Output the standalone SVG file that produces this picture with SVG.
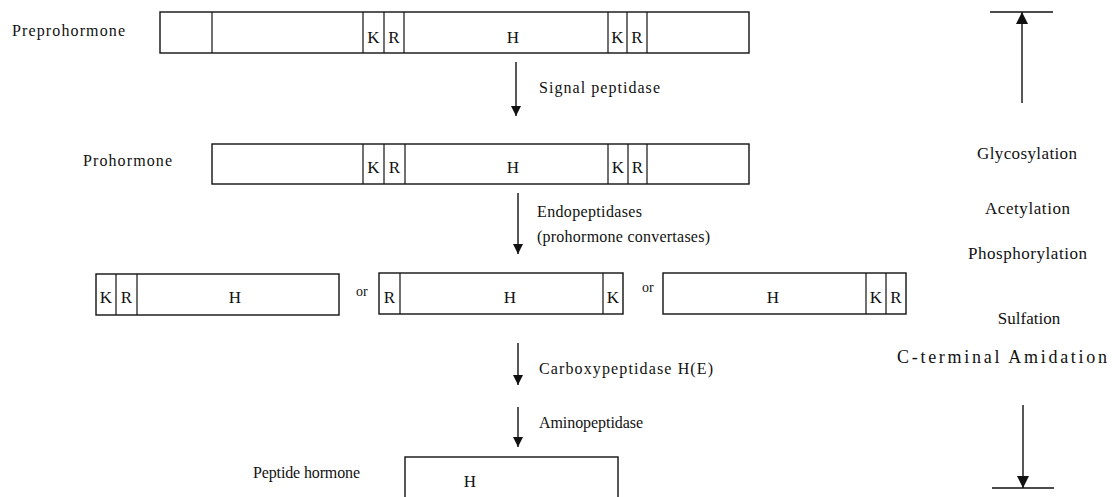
<svg xmlns="http://www.w3.org/2000/svg" width="1112" height="497" viewBox="0 0 1112 497">
<style>
.bar{fill:#fff;stroke:#111;stroke-width:1.4}
.div{stroke:#111;stroke-width:1.2}
.lbl{font-family:"Liberation Serif","Times New Roman",serif;font-size:16px;fill:#111}
.mod{font-family:"Liberation Serif","Times New Roman",serif;font-size:17px;fill:#111}
.cell{font-family:"Liberation Serif","Times New Roman",serif;font-size:17px;fill:#111;text-anchor:middle}
.arr{stroke:#111;stroke-width:1.4;fill:none}
</style>
<defs>
<marker id="ah" viewBox="0 0 10 10" refX="10" refY="5" markerWidth="10" markerHeight="10" markerUnits="userSpaceOnUse" orient="auto">
<path d="M0,0 L10,5 L0,10 z" fill="#111"/>
</marker>
<marker id="ahb" viewBox="0 0 10 10" refX="10" refY="5" markerWidth="12" markerHeight="12" markerUnits="userSpaceOnUse" orient="auto">
<path d="M0,0 L10,5 L0,10 z" fill="#111"/>
</marker>
</defs>

<g id="preprohormone">
<text class="lbl" x="12" y="36" textLength="113" lengthAdjust="spacing">Preprohormone</text>
<rect class="bar" x="160" y="12" width="589" height="41"/>
<line class="div" x1="212" y1="12" x2="212" y2="53"/>
<line class="div" x1="363" y1="12" x2="363" y2="53"/>
<line class="div" x1="384" y1="12" x2="384" y2="53"/>
<line class="div" x1="404" y1="12" x2="404" y2="53"/>
<line class="div" x1="608" y1="12" x2="608" y2="53"/>
<line class="div" x1="627" y1="12" x2="627" y2="53"/>
<line class="div" x1="647" y1="12" x2="647" y2="53"/>
<text class="cell" x="373.5" y="43">K</text>
<text class="cell" x="394" y="43">R</text>
<text class="cell" x="513" y="43">H</text>
<text class="cell" x="617.5" y="43">K</text>
<text class="cell" x="637" y="43">R</text>
</g>

<g id="prohormone">
<text class="lbl" x="83" y="166" textLength="89" lengthAdjust="spacing">Prohormone</text>
<rect class="bar" x="212" y="144" width="537" height="40"/>
<line class="div" x1="363" y1="144" x2="363" y2="184"/>
<line class="div" x1="384" y1="144" x2="384" y2="184"/>
<line class="div" x1="405" y1="144" x2="405" y2="184"/>
<line class="div" x1="608" y1="144" x2="608" y2="184"/>
<line class="div" x1="628" y1="144" x2="628" y2="184"/>
<line class="div" x1="647" y1="144" x2="647" y2="184"/>
<text class="cell" x="373.5" y="173">K</text>
<text class="cell" x="394.5" y="173">R</text>
<text class="cell" x="513" y="173">H</text>
<text class="cell" x="618" y="173">K</text>
<text class="cell" x="637.5" y="173">R</text>
</g>

<g id="fragment1">
<rect class="bar" x="96" y="274" width="243" height="41"/>
<line class="div" x1="116" y1="274" x2="116" y2="315"/>
<line class="div" x1="137" y1="274" x2="137" y2="315"/>
<text class="cell" x="106" y="303">K</text>
<text class="cell" x="126.5" y="303">R</text>
<text class="cell" x="235" y="303">H</text>
</g>
<g id="or1"><text class="lbl" x="356" y="296" style="font-size:14px">or</text></g>

<g id="fragment2">
<rect class="bar" x="379" y="273" width="244" height="41"/>
<line class="div" x1="400" y1="273" x2="400" y2="314"/>
<line class="div" x1="603" y1="273" x2="603" y2="314"/>
<text class="cell" x="389.5" y="303">R</text>
<text class="cell" x="510" y="303">H</text>
<text class="cell" x="613" y="303">K</text>
</g>
<g id="or2"><text class="lbl" x="642" y="292" style="font-size:14px">or</text></g>

<g id="fragment3">
<rect class="bar" x="663" y="273" width="243" height="41"/>
<line class="div" x1="866" y1="273" x2="866" y2="314"/>
<line class="div" x1="886" y1="273" x2="886" y2="314"/>
<text class="cell" x="773" y="303">H</text>
<text class="cell" x="876" y="303">K</text>
<text class="cell" x="896" y="303">R</text>
</g>

<g id="peptide-hormone">
<text class="lbl" x="253" y="478" textLength="107" lengthAdjust="spacing">Peptide hormone</text>
<rect class="bar" x="405" y="457" width="213" height="48"/>
<text class="cell" x="470" y="487">H</text>
</g>

<g id="enzyme-labels">
<text class="lbl" x="539" y="93" textLength="121" lengthAdjust="spacing">Signal peptidase</text>
<text class="lbl" x="537" y="217" textLength="105" lengthAdjust="spacing">Endopeptidases</text>
<text class="lbl" x="537" y="242" textLength="173" lengthAdjust="spacing">(prohormone convertases)</text>
<text class="lbl" x="539" y="374" textLength="174" lengthAdjust="spacing">Carboxypeptidase H(E)</text>
<text class="lbl" x="539" y="428" textLength="104" lengthAdjust="spacing">Aminopeptidase</text>
</g>

<g id="modifications">
<text class="mod" x="977" y="159" textLength="100" lengthAdjust="spacing">Glycosylation</text>
<text class="mod" x="985" y="214" textLength="85" lengthAdjust="spacing">Acetylation</text>
<text class="mod" x="968" y="259" textLength="119" lengthAdjust="spacing">Phosphorylation</text>
<text class="mod" x="1029" y="324" text-anchor="middle">Sulfation</text>
<text class="mod" x="897" y="363" textLength="210" lengthAdjust="spacing" style="font-size:18px">C-terminal Amidation</text>
</g>

<g id="connectors">
<line class="arr" x1="516" y1="62" x2="516" y2="116" marker-end="url(#ah)"/>
<line class="arr" x1="518" y1="193" x2="518" y2="254" marker-end="url(#ah)"/>
<line class="arr" x1="518" y1="343" x2="518" y2="385" marker-end="url(#ah)"/>
<line class="arr" x1="518" y1="407" x2="518" y2="447" marker-end="url(#ah)"/>
<line class="arr" x1="990" y1="12" x2="1053" y2="12"/>
<line class="arr" x1="1022" y1="103" x2="1022" y2="12" marker-end="url(#ahb)"/>
<line class="arr" x1="1023" y1="405" x2="1023" y2="488" marker-end="url(#ahb)"/>
<line class="arr" x1="992" y1="488" x2="1054" y2="488"/>
</g>
</svg>
